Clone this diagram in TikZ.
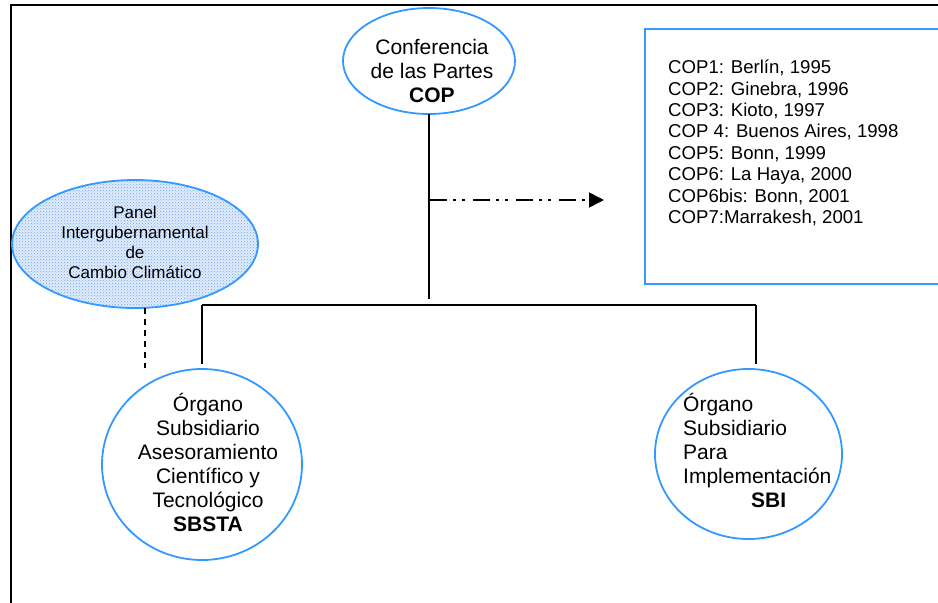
\documentclass[tikz,border=0pt]{standalone}
\usepackage{fontspec}
\setmainfont{Liberation Sans}
\usetikzlibrary{shapes.geometric,arrows.meta,patterns}
\definecolor{ovalblue}{RGB}{51,153,255}
\definecolor{dotblue}{RGB}{110,165,235}
\definecolor{ipccback}{RGB}{225,236,250}
\tikzset{
  oval/.style={ellipse,draw=ovalblue,line width=1.8pt,inner sep=0pt,outer sep=0pt},
  ipccoval/.style={oval,preaction={fill=ipccback},pattern=crosshatch dots,pattern color=dotblue},
  listbox/.style={rectangle,draw=ovalblue,line width=1.8pt,inner sep=0pt,outer sep=0pt},
  maintext/.style={font=\fontsize{21}{24}\selectfont,align=center,inner sep=0pt},
  ipcctext/.style={font=\fontsize{17}{20}\selectfont,align=center,inner sep=0pt},
  listtext/.style={font=\fontsize{18.6}{21.4}\selectfont,align=left,inner sep=0pt},
  joinline/.style={line width=1.5pt},
  dashdotline/.style={line width=1.5pt,dash pattern=on 17pt off 6pt on 3pt off 6pt on 3pt off 8pt},
}
\begin{document}
\begin{tikzpicture}[x=1pt,y=-1pt]
\useasboundingbox (0,0) rectangle (938,603);
\clip (0,0) rectangle (938,603);
\draw[line width=2pt] (11,620) -- (11,5) -- (950,5);

\node[listbox,minimum width=330,minimum height=255,anchor=north west] (listframe) at (645,29) {};
\node[listtext,anchor=west] (coplist) at (668,143) {COP1: Berlín, 1995\\COP2: Ginebra, 1996\\COP3: Kioto, 1997\\COP 4: Buenos Aires, 1998\\COP5: Bonn, 1999\\COP6: La Haya, 2000\\COP6bis: Bonn, 2001\\COP7:Marrakesh, 2001};

\node[oval,minimum width=172,minimum height=106] (cop) at (429,61) {};
\node[maintext] (coptext) at (432,71) {Conferencia\\de las Partes\\\textbf{COP}};

\node[ipccoval,minimum width=246,minimum height=128] (ipcc) at (135,244) {};
\node[ipcctext] (ipcctext) at (135,242) {Panel\\Intergubernamental\\de\\Cambio Climático};

\node[oval,minimum width=200,minimum height=191] (sbsta) at (202,464.5) {};
\node[maintext] (sbstatext) at (208,462) {Órgano\\Subsidiario\\Asesoramiento\\Científico y\\Tecnológico\\\textbf{SBSTA}};

\node[oval,minimum width=187,minimum height=170] (sbi) at (748.5,454) {};
\node[maintext,align=left,anchor=west] (sbitext) at (683,450) {Órgano\\Subsidiario\\Para\\Implementación\\\hspace*{68pt}\textbf{SBI}};

\coordinate (copend) at (429,299);
\coordinate (barleft) at (202,305);
\coordinate (barright) at (756,305);
\coordinate (arrowstart) at (430,200);
\coordinate (arrowtip) at (604,200);
\coordinate (ipccfoot) at (145,368);

\draw[joinline] (cop.south) -- (copend);
\draw[joinline] (barleft) -- (barright);
\draw[joinline,shorten >=5pt] (barleft) -- (barleft |- sbsta.north);
\draw[joinline,shorten >=5pt] (barright) -- (barright |- sbi.north);
\draw[dashdotline,-{Triangle[length=15pt,width=15pt]}] (arrowstart) -- (arrowtip);
\draw[line width=1.5pt,dash pattern=on 6pt off 5pt] (ipcc.south -| ipccfoot) -- (ipccfoot);
\end{tikzpicture}
\end{document}
